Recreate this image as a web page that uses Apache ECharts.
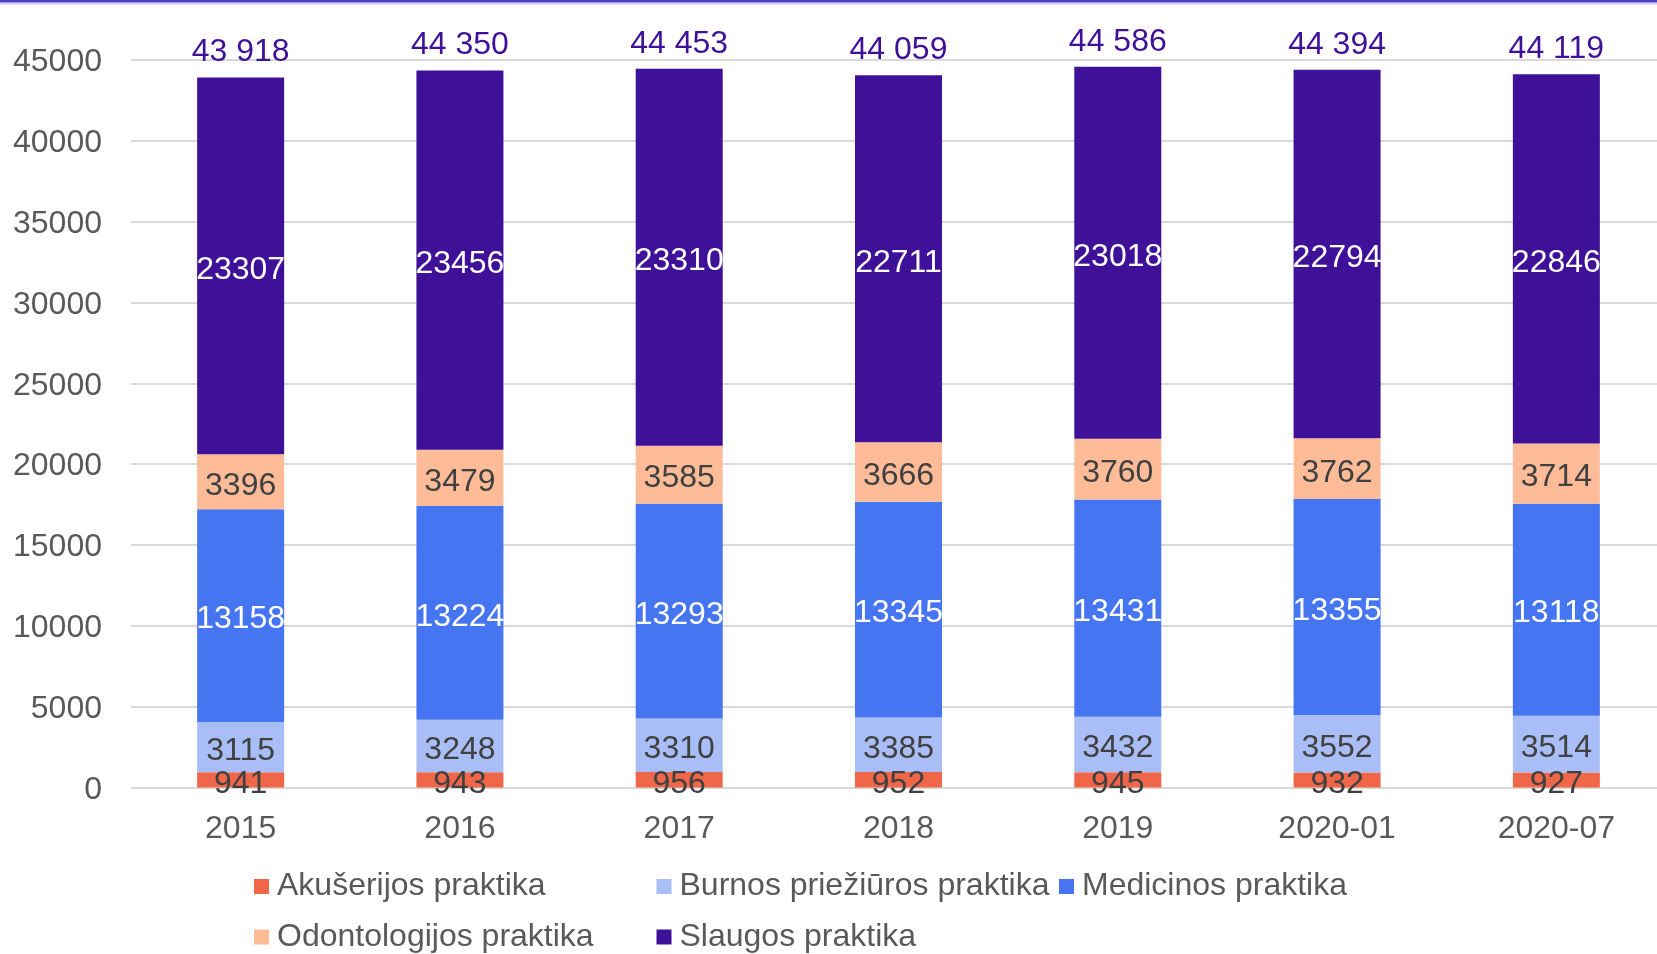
<!DOCTYPE html>
<html>
<head>
<meta charset="utf-8">
<style>
  html, body { margin: 0; padding: 0; background: #ffffff; overflow: hidden; }
  #chart { width: 1680px; height: 954px; }
</style>
<script src="https://cdn.jsdelivr.net/npm/echarts@6/dist/echarts.min.js"></script>
</head>
<body>
<div id="chart"></div>
<script>
// Periods on the category axis
const periods = ['2015', '2016', '2017', '2018', '2019', '2020-01', '2020-07'];

// Number of licences by practice type
const akuserijos = [941, 943, 956, 952, 945, 932, 927];
const burnos = [3115, 3248, 3310, 3385, 3432, 3552, 3514];
const medicinos = [13158, 13224, 13293, 13345, 13431, 13355, 13118];
const odontologijos = [3396, 3479, 3585, 3666, 3760, 3762, 3714];
const slaugos = [23307, 23456, 23310, 22711, 23018, 22794, 22846];

// Stated totals per period
const totals = [43918, 44350, 44453, 44059, 44586, 44394, 44119];

// Value axis ticks
const yTicks = { min: 0, max: 45000, step: 5000 };

const FONT = "'Liberation Sans', Arial, sans-serif";
const FS = 32;
const GREY = '#595959';
const DARK = '#404040';

const seriesDefs = [
  { name: 'Akušerijos praktika', data: akuserijos, color: '#EF6649', text: DARK },
  { name: 'Burnos priežiūros praktika', data: burnos, color: '#A9BEF7', text: DARK },
  { name: 'Medicinos praktika', data: medicinos, color: '#4675F1', text: '#ffffff' },
  { name: 'Odontologijos praktika', data: odontologijos, color: '#FDBB98', text: DARK },
  { name: 'Slaugos praktika', data: slaugos, color: '#3F1198', text: '#ffffff' }
];

const BAR_W = 87;

const series = seriesDefs.map(d => ({
  name: d.name,
  type: 'bar',
  stack: 'total',
  barWidth: BAR_W,
  data: d.data,
  itemStyle: { color: d.color },
  label: {
    show: true,
    position: 'inside',
    offset: [0, 4],
    color: d.text,
    fontFamily: FONT,
    fontSize: FS
  },
  z: 3
}));

// Invisible full-height bars that carry the total labels above each stack
series.push({
  name: 'Iš viso',
  type: 'bar',
  barWidth: BAR_W,
  barGap: '-100%',
  data: totals,
  itemStyle: { color: 'rgba(0,0,0,0)' },
  label: {
    show: true,
    position: 'top',
    distance: 9,
    color: '#3F1199',
    fontFamily: FONT,
    fontSize: FS,
    formatter: p => String(p.value).replace(/\B(?=(\d{3})+(?!\d))/g, ' ')
  },
  silent: true,
  z: 2
});

const chart = echarts.init(document.getElementById('chart'), null, { renderer: 'canvas' });

chart.setOption({
  animation: false,
  backgroundColor: '#ffffff',
  textStyle: { fontFamily: FONT },
  grid: { left: 131, width: 1535, top: 60, bottom: 166.5, containLabel: false },
  xAxis: {
    type: 'category',
    data: periods,
    axisLine: { show: false },
    axisTick: { show: false },
    axisLabel: { color: GREY, fontSize: FS, fontFamily: FONT, margin: 26 }
  },
  yAxis: {
    type: 'value',
    min: yTicks.min,
    max: yTicks.max,
    interval: yTicks.step,
    axisLine: { show: false },
    axisTick: { show: false },
    axisLabel: {
      color: GREY, fontSize: FS, fontFamily: FONT, margin: 29,
      formatter: v => '{t|' + v + '}',
      rich: {
        t: { color: GREY, fontSize: FS, fontFamily: FONT, padding: [5, 0, 0, 0] }
      }
    },
    splitLine: { lineStyle: { color: '#D9D9D9', width: 2 } }
  },
  legend: {
    data: seriesDefs.map(d => d.name),
    left: 249,
    top: 861,
    width: 1300,
    orient: 'horizontal',
    icon: 'rect',
    itemWidth: 15,
    itemHeight: 15,
    itemGap: 9.5,
    selectedMode: false,
    textStyle: {
      color: GREY,
      fontSize: FS,
      fontFamily: FONT,
      width: 370,
      lineHeight: 41,
      padding: [0, 0, 0, 3]
    }
  },
  graphic: [
    { type: 'rect', shape: { x: 0, y: 0, width: 1680, height: 2 }, style: { fill: '#4B3DC2' }, z: 10 },
    { type: 'rect', shape: { x: 0, y: 2, width: 1680, height: 1.5 }, style: { fill: '#9C94E2' }, z: 10 },
    { type: 'rect', shape: { x: 0, y: 3.5, width: 1680, height: 1.5 }, style: { fill: '#E0DDF6' }, z: 10 }
  ],
  series: series
});
</script>
</body>
</html>
